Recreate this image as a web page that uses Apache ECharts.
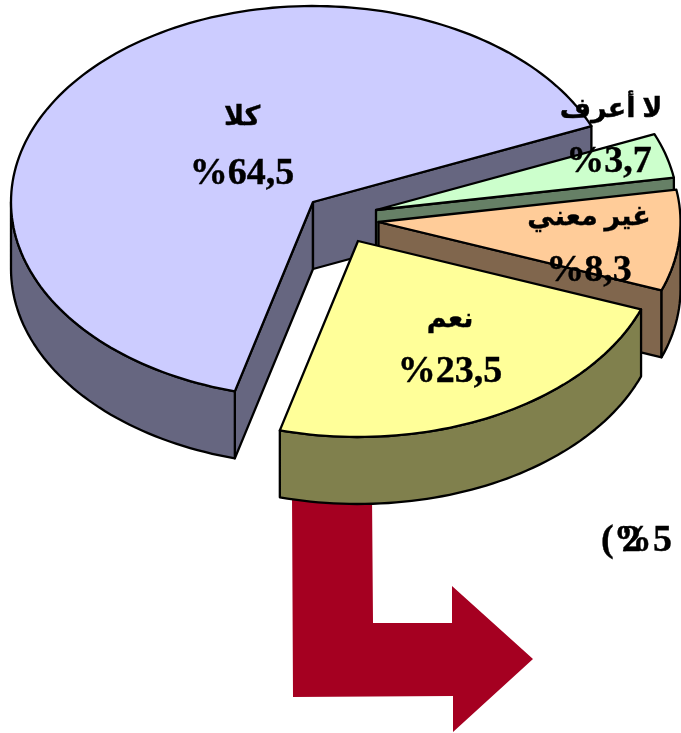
<!DOCTYPE html>
<html><head><meta charset="utf-8">
<style>html,body{margin:0;padding:0;background:#fff}#c{width:681px;height:733px}</style>
<script src="https://cdn.jsdelivr.net/npm/echarts@6/dist/echarts.min.js"></script>
</head><body><div id="c"></div>
<script>
// data
var categories = ['كلا', 'لا أعرف', 'غير معني', 'نعم'];
var values = [64.5, 3.7, 8.3, 23.5];
var valueLabels = ['%64,5', '%3,7', '%8,3', '%23,5'];
var sideNote = ['(%', '2', '5'];

// style & layout
var topColors = ['#CCCCFF', '#CCFFCC', '#FFCC99', '#FFFF99'];
var wallColors = ['#666680', '#668066', '#80664D', '#80804D'];
var apexes = [[313, 202], [376, 210], [378.5, 222], [358, 241]];
var nameAt = [[242, 118], [611, 110], [589, 218], [450, 320]];
var valueAt = [[242, 174], [609, 162], [589, 271], [450, 372]];
var sideNoteAt = [601, 622, 653];
var RX = 302, RY = 196, DEPTH = 67, START_DEG = 195;
var LATIN = "'Liberation Serif','Times New Roman',serif";
var NAME_FONT = "bold 27px 'Liberation Serif','DejaVu Sans',serif";
var VALUE_FONT = 'bold 38px ' + LATIN;
var LINE = { stroke: '#000', lineWidth: 2.3, lineJoin: 'round' };
var TEXT_INK = { fill: '#000', stroke: '#000', lineWidth: 0.4 };

function rad(d) { return d * Math.PI / 180; }
function rim(apex, deg, dy) {
  return [apex[0] + RX * Math.sin(rad(deg)), apex[1] - RY * Math.cos(rad(deg)) + (dy || 0)];
}
function arc(apex, a, b, dy) {
  var pts = [], n = Math.max(2, Math.ceil(Math.abs(b - a) / 1.5));
  for (var i = 0; i <= n; i++) pts.push(rim(apex, a + (b - a) * i / n, dy));
  return pts;
}
function poly(points, fill, z2) {
  return { type: 'polygon', z2: z2, shape: { points: points },
    style: Object.assign({ fill: fill }, LINE) };
}
function cutWall(apex, deg, fill, z2) {
  var p = rim(apex, deg);
  return poly([apex, p, [p[0], p[1] + DEPTH], [apex[0], apex[1] + DEPTH]], fill, z2);
}
function label(text, at, font) {
  return { type: 'text', z2: 50, style: Object.assign({ text: text, x: at[0], y: at[1],
    font: font, align: 'center', verticalAlign: 'middle' }, TEXT_INK) };
}
function renderSlice(params, api) {
  var i = params.dataIndex, before = 0;
  for (var k = 0; k < i; k++) before += values[k];
  var a0 = (START_DEG + before * 3.6) % 360;
  var a1 = a0 + api.value(0) * 3.6;
  var apex = apexes[i], kids = [], base = i * 5;

  // side walls that face the viewer
  if (Math.sin(rad(a0)) < 0) kids.push(cutWall(apex, a0, wallColors[i], base + 1));
  if (Math.sin(rad(a1)) > 0) kids.push(cutWall(apex, a1, wallColors[i], base + 1));
  // outer rim wall: the part of the rim in the front half of the ellipse
  var f0 = Math.max(a0, 90), f1 = Math.min(a1, 270);
  if (f1 > f0) {
    kids.push(poly(arc(apex, f0, f1, 0).concat(arc(apex, f1, f0, DEPTH)), wallColors[i], base + 2));
  }
  // top face
  kids.push(poly([apex].concat(arc(apex, a0, a1, 0)), topColors[i], base + 3));
  // labels
  kids.push(label(categories[i], nameAt[i], NAME_FONT));
  kids.push(label(valueLabels[i], valueAt[i], VALUE_FONT));
  return { type: 'group', children: kids };
}

var chart = echarts.init(document.getElementById('c'), null, { renderer: 'canvas' });
chart.setOption({
  animation: false,
  backgroundColor: '#fff',
  graphic: [
    { type: 'polygon', z: 0, silent: true,
      shape: { points: [[292, 495], [372, 495], [373, 623], [452, 623], [452, 586], [533, 659],
                        [453, 732], [453, 696], [293, 697]] },
      style: { fill: '#A50021' } }
  ].concat(sideNote.map(function (t, i) {
    return { type: 'text', z: 5, silent: true,
      style: Object.assign({ text: t, x: sideNoteAt[i], y: 541, font: VALUE_FONT, verticalAlign: 'middle' }, TEXT_INK) };
  })),
  series: [{
    type: 'custom',
    z: 2,
    coordinateSystem: 'none',
    silent: true,
    renderItem: renderSlice,
    data: values.map(function (v) { return [v]; })
  }]
});
</script></body></html>
